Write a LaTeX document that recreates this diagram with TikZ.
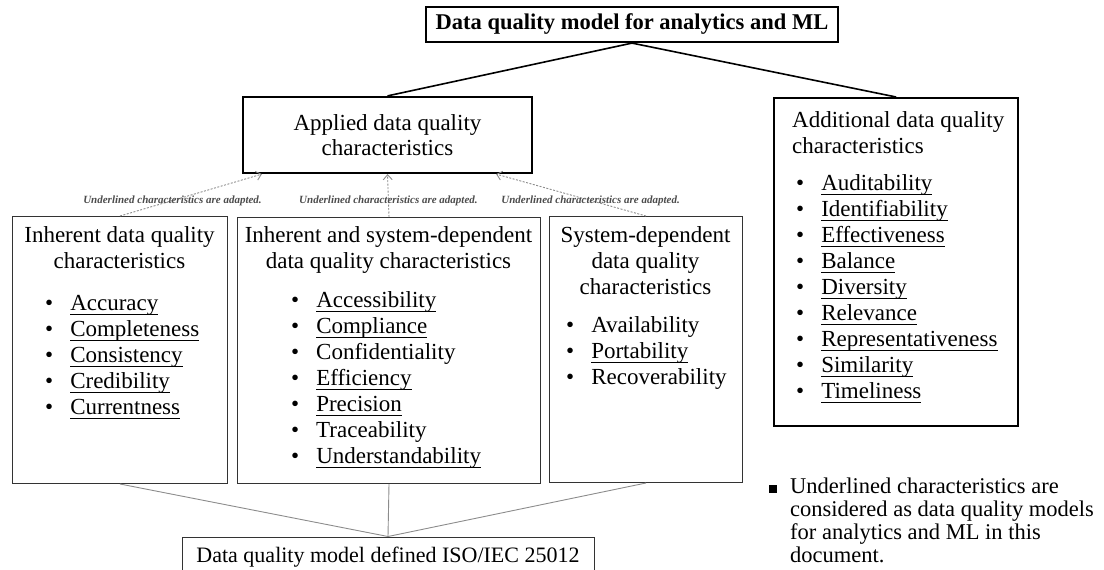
\documentclass[tikz,border=0pt]{standalone}
\usepackage{fontspec}
\setmainfont{Liberation Serif}
\usetikzlibrary{arrows.meta}
\newcommand{\uword}[1]{\setbox0\hbox{#1}\rlap{\rule[-4.5pt]{\wd0}{0.9pt}}\box0}
\newcommand{\adaptnote}{Underlined characteristics are adapted.}
\tikzset{
	heavybox/.style={draw, line width=2.2pt, inner sep=0pt},
	lightbox/.style={draw=black!80, line width=1pt, inner sep=0pt},
	bodytext/.style={inner sep=0pt, font=\fontsize{23}{26}\selectfont},
	treeline/.style={line width=1.6pt},
	isoline/.style={draw=black!45, line width=0.9pt},
	adaptarrow/.style={draw=black!45, line width=0.9pt, dash pattern=on 2pt off 1.5pt, -{Straight Barb[length=5pt,width=9pt]}},
	adapted/.style={inner sep=0pt, text=black!70, font=\fontsize{11}{13}\selectfont\bfseries\itshape}
}
\begin{document}
\begin{tikzpicture}[x=1pt,y=-1pt]
		\useasboundingbox (0,0) rectangle (1104,570);
		\node[heavybox, minimum width=412pt, minimum height=35pt, font=\fontsize{22.5}{25}\selectfont\bfseries] (model) at (632,24.5) {Data quality model for analytics and ML};
		\node[heavybox, minimum width=289pt, minimum height=76pt, align=center, font=\fontsize{23}{25}\selectfont] (app) at (387.5,135) {Applied data quality\\characteristics};
		\node[heavybox, minimum width=244pt, minimum height=328pt, anchor=north west] (add) at (773,97) {};
		\node[lightbox, minimum width=215pt, minimum height=267pt, anchor=north west] (inh) at (12,216) {};
		\node[lightbox, minimum width=303pt, minimum height=266pt, anchor=north west] (both) at (237,217) {};
		\node[lightbox, minimum width=193pt, minimum height=266pt, anchor=north west] (sys) at (549,216) {};
		\node[lightbox, minimum width=412pt, minimum height=40pt, bodytext, font=\fontsize{22}{26}\selectfont] (iso) at (388,557) {Data quality model defined ISO/IEC 25012};
		
		\draw[treeline] (model.south) -- (app.north);
		\draw[treeline] (model.south) -- (add.north);
		
		\draw[adaptarrow] (inh.north) -- node[adapted, pos=0.37] (note1) {\adaptnote} ([xshift=20pt]app.south west);
		\draw[adaptarrow] (both.north) -- node[adapted, pos=0.37] (note2) {\adaptnote} (app.south);
		\draw[adaptarrow] (sys.north) -- node[adapted, pos=0.37] (note3) {\adaptnote} ([xshift=-37pt]app.south east);
		
		\draw[isoline] (inh.south) -- (iso.north);
		\draw[isoline] (both.south) -- (iso.north);
		\draw[isoline] (sys.south) -- (iso.north);
		
		\node[bodytext, anchor=base] (inhtitle) at (119.5,242) {\begin{tabular}[t]{@{}c@{}}Inherent data quality\\characteristics\end{tabular}};
		\node[bodytext, anchor=base west] (inhlist) at (45,310) {\begin{tabular}[t]{@{}c@{\hspace{17pt}}l@{}}
			\textbullet & \uword{Accuracy}\\
			\textbullet & \uword{Completeness}\\
			\textbullet & \uword{Consistency}\\
			\textbullet & \uword{Credibility}\\
			\textbullet & \uword{Currentness}
		\end{tabular}};
		
		\node[bodytext, anchor=base] (bothtitle) at (388.5,242) {\begin{tabular}[t]{@{}c@{}}Inherent and system-dependent\\data quality characteristics\end{tabular}};
		\node[bodytext, anchor=base west] (bothlist) at (291,307) {\begin{tabular}[t]{@{}c@{\hspace{17pt}}l@{}}
			\textbullet & \uword{Accessibility}\\
			\textbullet & \uword{Compliance}\\
			\textbullet & Confidentiality\\
			\textbullet & \uword{Efficiency}\\
			\textbullet & \uword{Precision}\\
			\textbullet & Traceability\\
			\textbullet & \uword{Understandability}
		\end{tabular}};
		
		\node[bodytext, anchor=base] (systitle) at (645.5,242) {\begin{tabular}[t]{@{}c@{}}System-dependent\\data quality\\characteristics\end{tabular}};
		\node[bodytext, anchor=base west] (syslist) at (566,332) {\begin{tabular}[t]{@{}c@{\hspace{17pt}}l@{}}
			\textbullet & Availability\\
			\textbullet & \uword{Portability}\\
			\textbullet & Recoverability
		\end{tabular}};
		
		\node[bodytext, anchor=base west] (addtitle) at (792,127) {\begin{tabular}[t]{@{}l@{}}Additional data quality\\characteristics\end{tabular}};
		\node[bodytext, anchor=base west] (addlist) at (796,190) {\begin{tabular}[t]{@{}c@{\hspace{17pt}}l@{}}
			\textbullet & \uword{Auditability}\\
			\textbullet & \uword{Identifiability}\\
			\textbullet & \uword{Effectiveness}\\
			\textbullet & \uword{Balance}\\
			\textbullet & \uword{Diversity}\\
			\textbullet & \uword{Relevance}\\
			\textbullet & \uword{Representativeness}\\
			\textbullet & \uword{Similarity}\\
			\textbullet & \uword{Timeliness}
		\end{tabular}};
		
		\node[inner sep=0pt, anchor=base west, font=\fontsize{22.5}{23.3}\selectfont] (legend) at (769,493) {\begin{tabular}[t]{@{}l@{\hspace{13pt}}l@{}}
			\rule[0.5pt]{8pt}{8pt} & Underlined characteristics are\\
			& considered as data quality models\\
			& for analytics and ML in this\\
			& document.
		\end{tabular}};
		
		\end{tikzpicture}
\end{document}
